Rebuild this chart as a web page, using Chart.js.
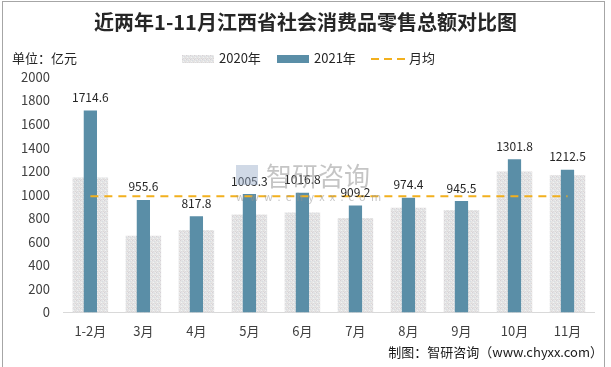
<!DOCTYPE html>
<html>
<head>
<meta charset="utf-8">
<script src="https://cdn.jsdelivr.net/npm/chart.js@4.4.0/dist/chart.umd.min.js"></script>
<style>
  html, body { margin: 0; padding: 0; background: #fff; }
  body { width: 611px; height: 367px; position: relative; overflow: hidden;
         font-family: "Noto Sans CJK SC", "Noto Sans", sans-serif; color: #262626; }
  #frame { position: absolute; left: 2px; top: 1px; width: 603px; height: 380px;
           border: 1px solid #a6a6a6; box-sizing: border-box; }
  canvas#c { position: absolute; left: 0; top: 0; }
  .t { position: absolute; white-space: nowrap; line-height: 1; }
  #title { left: 0; width: 611px; text-align: center; top: 12px; font-size: 20px; font-weight: bold; color: #262626; }
  #unit { left: 12px; top: 51px; font-size: 13px; }
  .sw { position: absolute; height: 8px; top: 55px; }
  .lg { top: 51px; font-size: 13px; }
  #foot { right: 8px; top: 345px; font-size: 13px; color: #1a1a1a; }
  #wm { left: 236px; top: 162px; color: rgba(150,150,150,0.55); }
  #wm .big { position: absolute; left: 30px; top: 0; font-size: 26px; line-height: 1; white-space: nowrap; }
  #wm .small { position: absolute; left: 0; top: 29px; font-size: 11px; letter-spacing: 5.2px; white-space: nowrap; }
  #wm .logo { position: absolute; left: 0; top: 3px; width: 22px; height: 20px; background: rgba(150,170,200,0.45); }
</style>
</head>
<body>
<canvas id="c" width="611" height="367"></canvas>
<div id="wm" class="t"><div class="logo"></div><div class="big">智研咨询</div><div class="small">www.chyxx.com</div></div>
<div id="title" class="t">近两年1-11月江西省社会消费品零售总额对比图</div>
<div id="unit" class="t">单位：亿元</div>
<div id="sw1" class="sw" style="left:182px;width:32px;"></div>
<div id="lg1" class="t lg" style="left:219px;"></div>
<div id="sw2" class="sw" style="left:277px;width:32px;background:#5a8ea7;"></div>
<div id="lg2" class="t lg" style="left:314px;"></div>
<div id="sw3" class="sw" style="left:371px;width:35px;height:2px;top:58px;background:repeating-linear-gradient(to right,#f2b01e 0 8px,transparent 8px 13px);"></div>
<div id="lg3" class="t lg" style="left:409px;"></div>
<div id="foot" class="t">制图：智研咨询（www.chyxx.com）</div>
<div id="frame"></div>
<script>
// ---- data ----
const categories = ["1-2月", "3月", "4月", "5月", "6月", "7月", "8月", "9月", "10月", "11月"];
const values2020 = [1146, 651, 700, 831, 848, 803, 889, 871, 1197, 1166];
const values2021 = [1714.6, 955.6, 817.8, 1005.3, 1016.8, 909.2, 974.4, 945.5, 1301.8, 1212.5];
const monthlyAvg = [986.7, 986.7, 986.7, 986.7, 986.7, 986.7, 986.7, 986.7, 986.7, 986.7];
const seriesNames = ["2020年", "2021年", "月均"];
const yTicks = [0, 200, 400, 600, 800, 1000, 1200, 1400, 1600, 1800, 2000];

document.getElementById('lg1').textContent = seriesNames[0];
document.getElementById('lg2').textContent = seriesNames[1];
document.getElementById('lg3').textContent = seriesNames[2];

// dotted light-gray pattern for 2020 bars
const pc = document.createElement('canvas');
pc.width = 4; pc.height = 4;
const px = pc.getContext('2d');
px.fillStyle = '#e4e4e4'; px.fillRect(0, 0, 4, 4);
const dots = [[0,0,'#d6d0d6'],[2,1,'#d8dce3'],[1,2,'#f2f2f2'],[3,3,'#ddd6d6'],[3,0,'#eeeeee'],[1,3,'#dadade']];
dots.forEach(d => { px.fillStyle = d[2]; px.fillRect(d[0], d[1], 1, 1); });
const ctx = document.getElementById('c').getContext('2d');
const pattern = ctx.createPattern(pc, 'repeat');
document.getElementById('sw1').style.background = 'url(' + pc.toDataURL() + ')';

const FONT = '"Noto Sans CJK SC", "Noto Sans", sans-serif';

const valueLabels = {
  id: 'valueLabels',
  afterDatasetsDraw(chart) {
    const meta = chart.getDatasetMeta(1);
    const c = chart.ctx;
    c.save();
    c.font = '12px ' + FONT;
    c.fillStyle = '#262626';
    c.textAlign = 'center';
    c.textBaseline = 'middle';
    meta.data.forEach((el, i) => {
      c.fillText(values2021[i].toFixed(1), el.x, el.y - 13);
    });
    c.restore();
  }
};

new Chart(ctx, {
  type: 'bar',
  data: {
    labels: categories,
    datasets: [
      { label: seriesNames[0], data: values2020, backgroundColor: pattern,
        barPercentage: 0.67, categoryPercentage: 1, grouped: false, order: 3 },
      { label: seriesNames[1], data: values2021, backgroundColor: '#5a8ea7',
        barPercentage: 0.25, categoryPercentage: 1, grouped: false, order: 2 },
      { type: 'line', label: seriesNames[2], data: monthlyAvg, borderColor: '#f2b01e',
        borderWidth: 2, borderDash: [8, 6], pointRadius: 0, fill: false, order: 1 }
    ]
  },
  options: {
    responsive: false,
    animation: false,
    layout: { padding: { top: 77, left: 7, right: 17, bottom: 17 } },
    plugins: { legend: { display: false }, title: { display: false }, tooltip: { enabled: false } },
    scales: {
      x: {
        grid: { display: false, drawTicks: false },
        border: { display: true, color: '#d9d9d9', width: 1 },
        ticks: { font: { size: 13, family: FONT }, color: '#404040', padding: 11 }
      },
      y: {
        min: 0, max: 2000,
        afterBuildTicks(scale) { scale.ticks = yTicks.map(v => ({ value: v })); },
        grid: { display: false, drawTicks: false },
        border: { display: false },
        ticks: { font: { size: 13, family: FONT }, color: '#404040', padding: 14,
                 callback: (v) => String(v) }
      }
    }
  },
  plugins: [valueLabels]
});
</script>
</body>
</html>
